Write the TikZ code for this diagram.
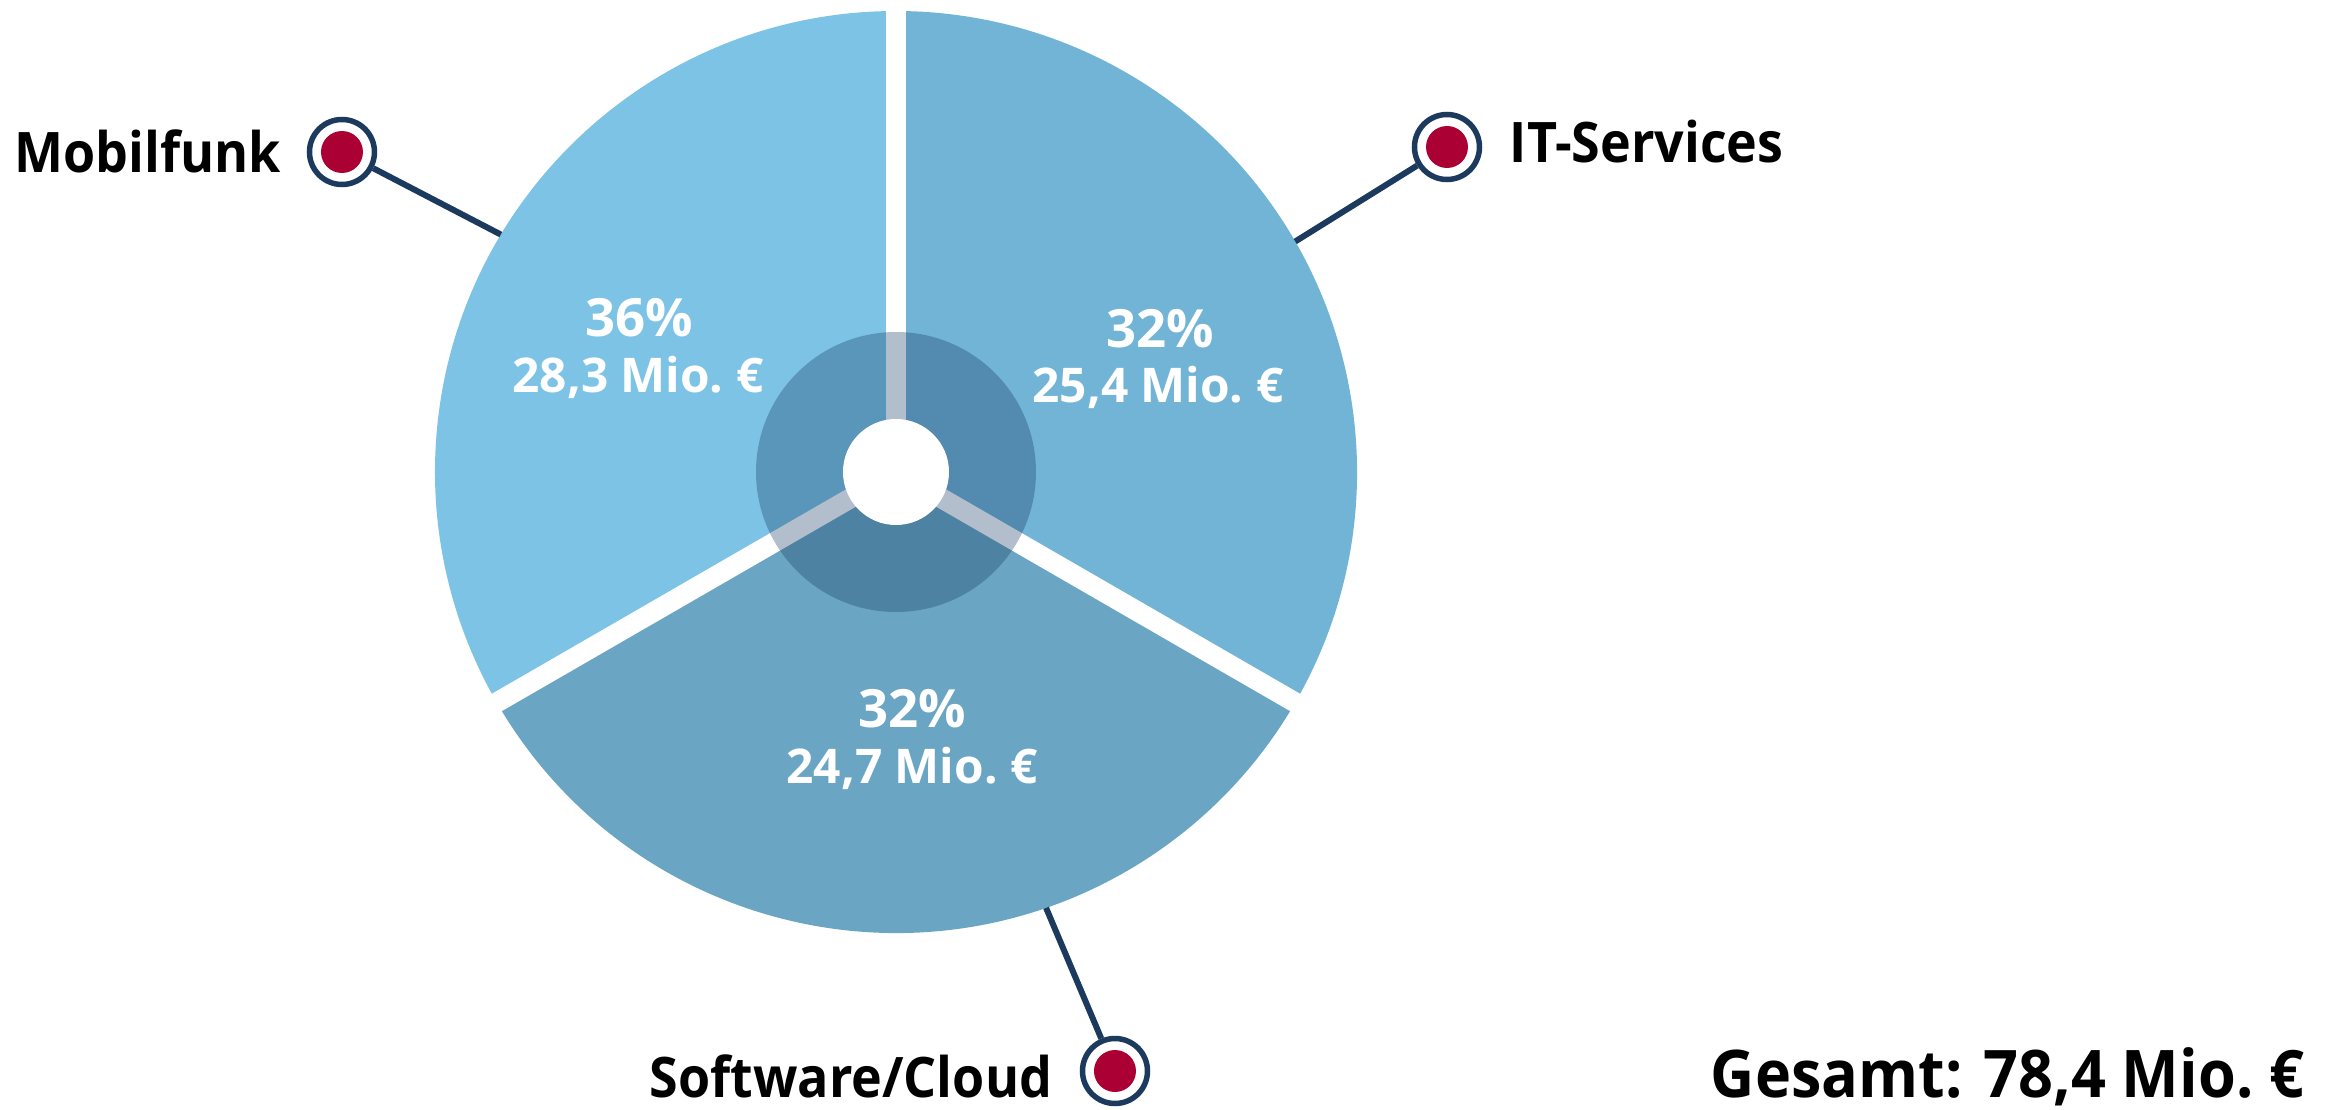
\documentclass[tikz,border=0pt]{standalone}
\usepackage{fontspec}
\setmainfont{Open Sans}
\newfontfamily\narrowfont[FakeStretch=0.93]{Open Sans}
\usetikzlibrary{positioning}
\definecolor{mobilblue}{HTML}{7DC3E6}
\definecolor{itblue}{HTML}{72B4D6}
\definecolor{cloudblue}{HTML}{6AA6C4}
\definecolor{navy}{HTML}{1B3A5E}
\definecolor{ringnavy}{HTML}{123760}
\definecolor{dotred}{HTML}{AA0033}
\tikzset{
  marker/.style={circle,draw=navy,line width=0.55mm,fill=white,minimum size=6.5mm,inner sep=0},
  conn/.style={navy,line width=0.6mm},
  lbl/.style={font=\narrowfont\bfseries\fontsize{15.9}{18}\selectfont,inner sep=0},
  pct/.style={white,font=\bfseries\fontsize{15}{17}\selectfont,inner sep=0,anchor=base},
  amt/.style={white,font=\bfseries\fontsize{13.6}{16}\selectfont,inner sep=0,anchor=base}
}
\begin{document}
\begin{tikzpicture}[x=0.1mm,y=0.1mm]
\useasboundingbox(-896,-638)rectangle(1436,472);
% slices
\fill[mobilblue](0,0)--(90:461)arc(90:210:461)--cycle;
\fill[itblue](0,0)--(-30:461)arc(-30:90:461)--cycle;
\fill[cloudblue](0,0)--(210:461)arc(210:330:461)--cycle;
\foreach \a in {90,210,330}\draw[white,line width=2mm](0,0)--(\a:480);
\fill[ringnavy,opacity=.32](0,0)circle(140);
\fill[white](0,0)circle(53);
% values
\node[pct](mobP)at(-257,135){36\%};
\node[amt](mobA)at(-258,80){28,3 Mio.~€};
\node[pct](itsP)at(264,125){32\%};
\node[amt](itsA)at(262,70){25,4 Mio.~€};
\node[pct](cldP)at(16,-255){32\%};
\node[amt](cldA)at(16,-311){24,7 Mio.~€};
% markers
\node[marker](mob)at(-554,320){};
\node[marker](its)at(551,325){};
\node[marker](cld)at(219,-599){};
\fill[dotred](mob)circle(21);
\fill[dotred](its)circle(21);
\fill[dotred](cld)circle(21);
\coordinate(mobE)at(149:461);
\coordinate(itsE)at(30:461);
\coordinate(cldE)at(-71:461);
\draw[conn](mob)--(mobE);
\draw[conn](its)--(itsE);
\draw[conn](cld)--(cldE);
\node[lbl,anchor=base east](mobT)at([xshift=-2.5mm,yshift=-2mm]mob.west){Mobilfunk};
\node[lbl,anchor=base west](itsT)at([xshift=2.7mm,yshift=-1.5mm]its.east){IT-Services};
\node[lbl,anchor=base east](cldT)at([xshift=-2.7mm,yshift=-2.6mm]cld.west){Software/Cloud};
\node[font=\narrowfont\bfseries\fontsize{18.7}{22}\selectfont,inner sep=0,anchor=base east](total)at(1409,-625){Gesamt: 78,4 Mio.~€};
\end{tikzpicture}
\end{document}
